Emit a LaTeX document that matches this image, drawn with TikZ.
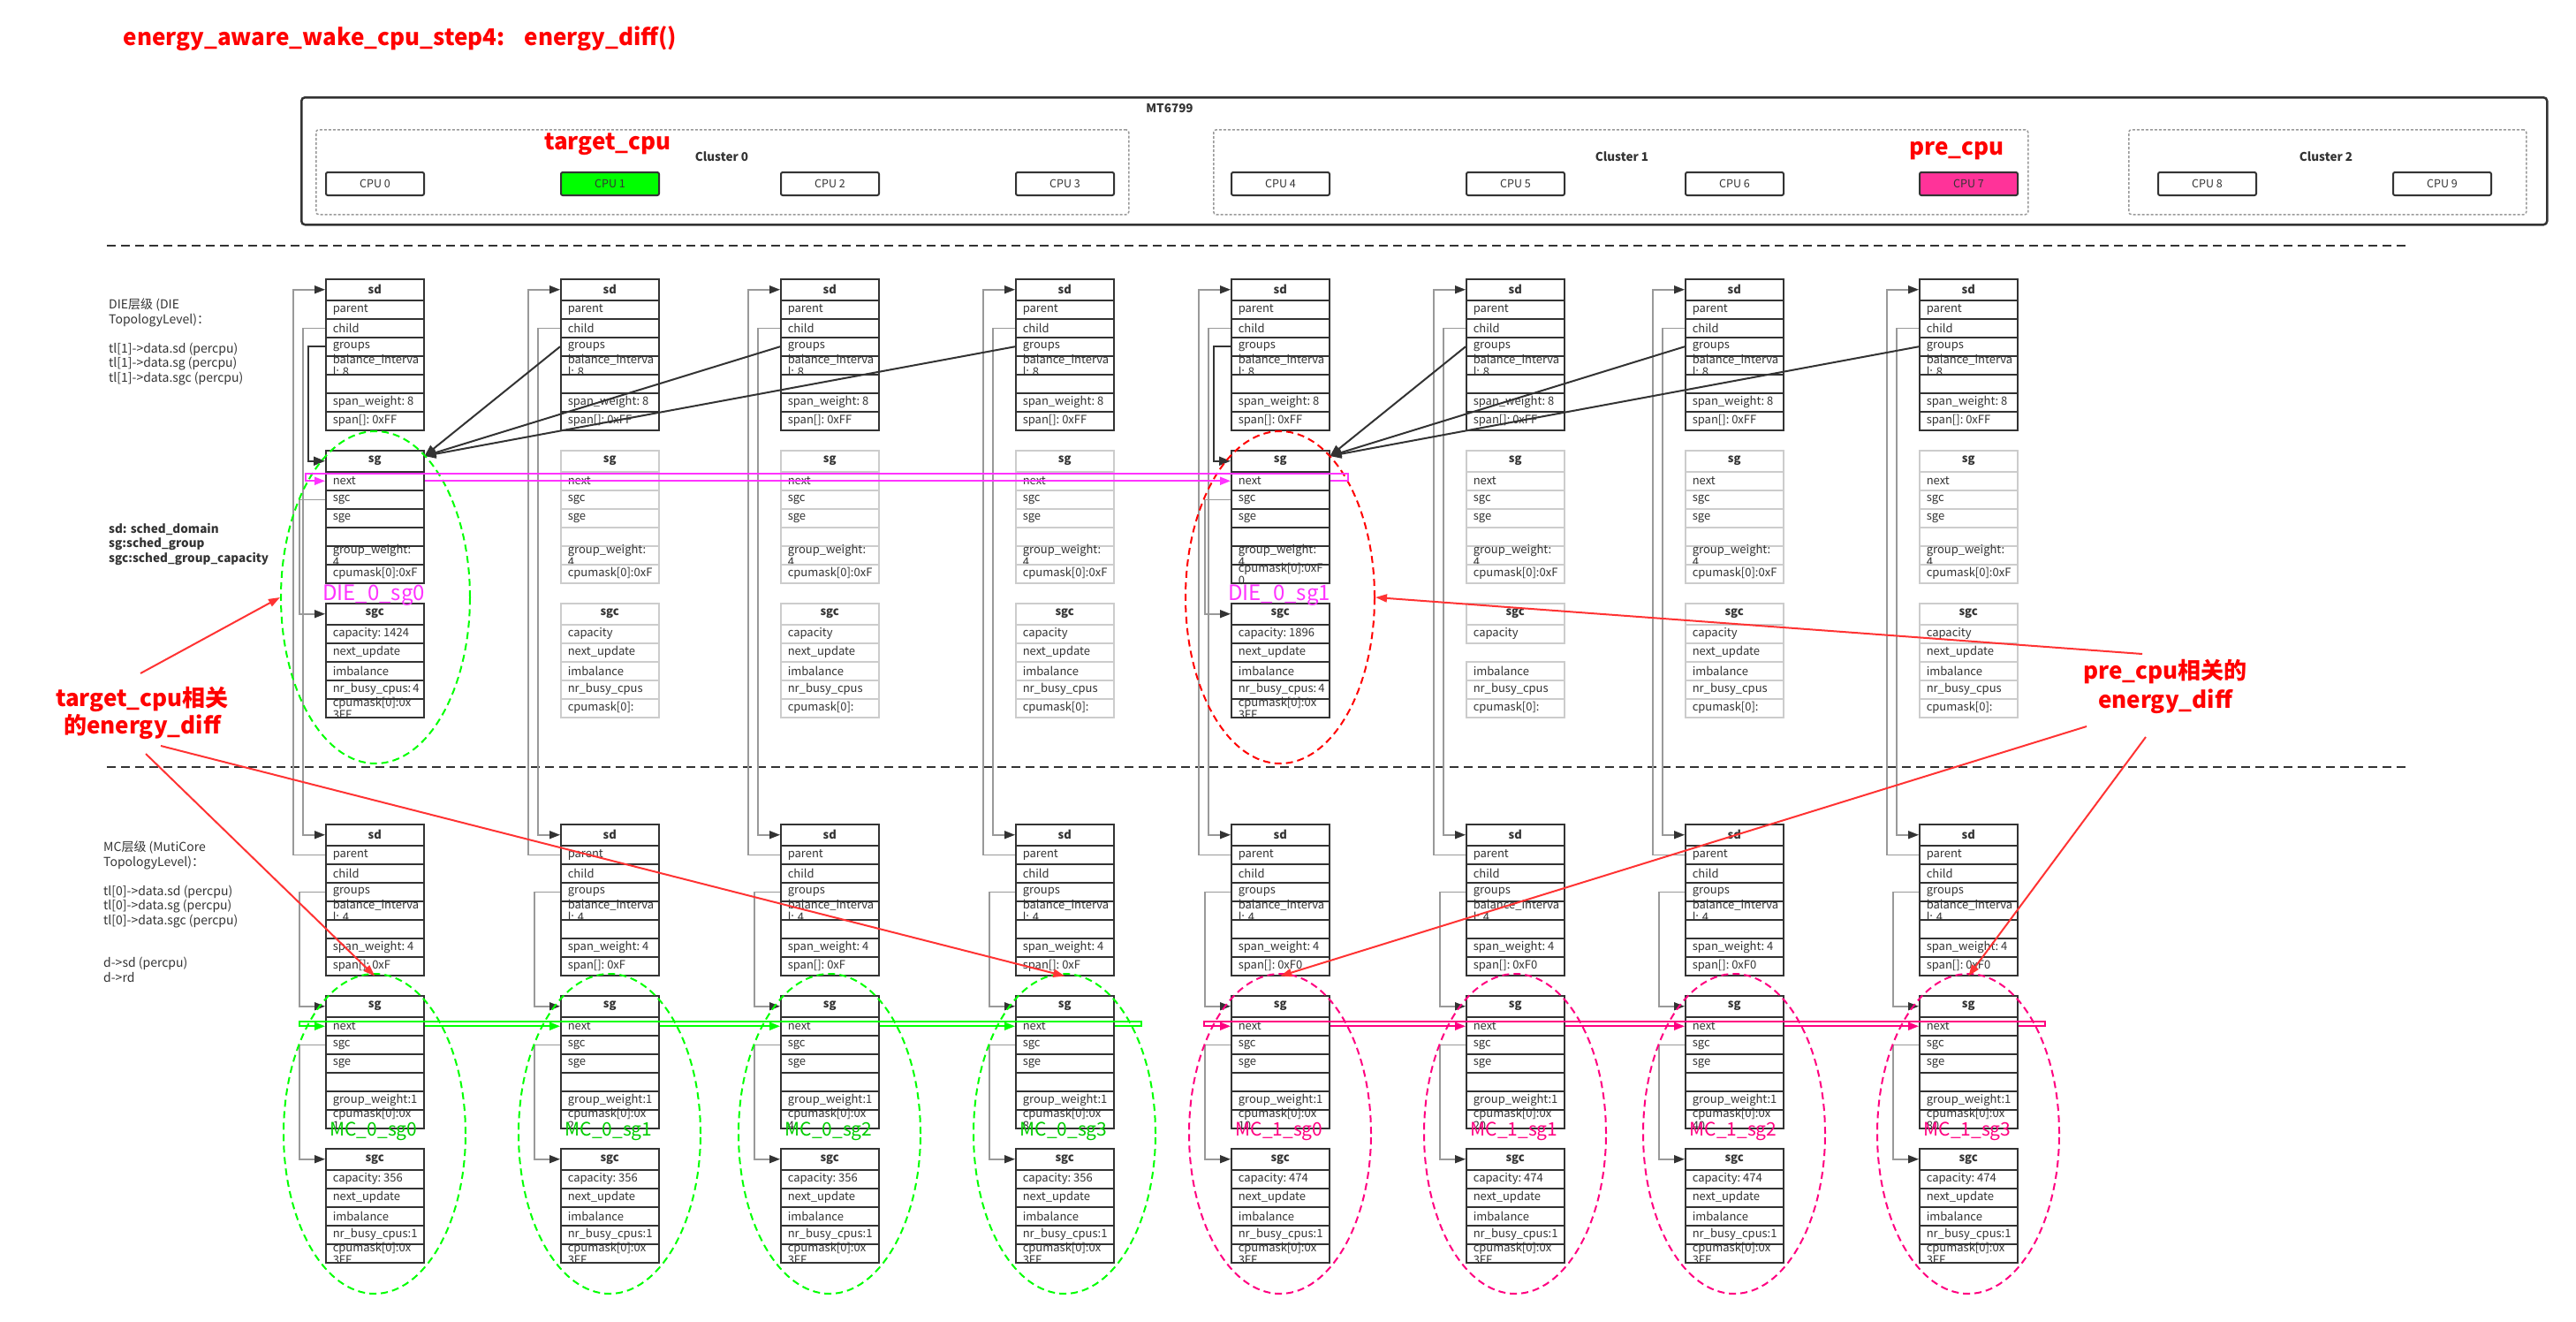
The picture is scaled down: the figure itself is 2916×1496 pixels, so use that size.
\documentclass[tikz,border=0pt]{standalone}
\usepackage{fontspec}
\setmainfont{Noto Sans CJK SC}
\usetikzlibrary{arrows.meta,shapes.geometric}

\definecolor{boxdark}{HTML}{333333}
\definecolor{boxgray}{HTML}{CCCCCC}
\definecolor{linegray}{HTML}{999999}
\definecolor{titlered}{HTML}{FF0000}
\definecolor{arrowred}{HTML}{FF3333}
\definecolor{magline}{HTML}{FF33FF}
\definecolor{grnline}{HTML}{00FF00}
\definecolor{grntext}{HTML}{00CC00}
\definecolor{pinkline}{HTML}{FF0080}
\definecolor{cpugreen}{HTML}{00FF00}
\definecolor{cpupink}{HTML}{FF3399}

\tikzset{
  head/.style={anchor=north west, minimum width=111pt, minimum height=24pt, inner sep=0pt,
    line width=1.5pt, fill=white, font=\bfseries\fontsize{13}{14}\selectfont},
  cell/.style={anchor=north west, minimum width=111pt, minimum height=21pt, inner sep=0pt,
    line width=1.5pt, fill=white, font=\fontsize{13}{13.5}\selectfont},
  dk/.style={draw=boxdark, text=boxdark},
  lt/.style={draw=boxgray, text=boxdark},
  cpu/.style={anchor=north west, draw=boxdark, line width=2pt, rounded corners=2pt,
    minimum width=111pt, minimum height=26pt, inner sep=0pt, text=boxdark,
    font=\fontsize{12.5}{14}\selectfont},
  clus/.style={anchor=north west, draw=linegray, line width=1.5pt, dash pattern=on 3pt off 2pt,
    rounded corners=3pt, inner sep=0pt},
  small/.style={text=boxdark, font=\bfseries\fontsize{13.5}{15}\selectfont},
  note/.style={anchor=north west, align=left, inner sep=0pt, text=boxdark,
    font=\fontsize{14}{16.5}\selectfont},
  redlbl/.style={align=center, text=titlered, font=\bfseries\fontsize{26}{31}\selectfont},
  gline/.style={draw=linegray, line width=1.5pt, -{Triangle[length=12pt,width=9pt,color=boxdark]}},
  dline/.style={draw=boxdark, line width=2pt, -{Triangle[length=13pt,width=10pt]}},
  magln/.style={draw=magline, line width=2pt, -{Triangle[length=12pt,width=9pt]}},
  grnln/.style={draw=grnline, line width=2pt, -{Triangle[length=12pt,width=9pt]}},
  pinkln/.style={draw=pinkline, line width=2pt, -{Triangle[length=12pt,width=9pt]}},
  redarr/.style={draw=arrowred, line width=2pt, -{Triangle[length=13pt,width=9pt]}},
  grp/.style={ellipse, line width=2pt, dash pattern=on 8pt off 5pt, inner sep=0pt},
  grplbl/.style={font=\fontsize{24}{24}\selectfont}
}

% one struct: header node #1, rows #1-1, #1-2, ...
\newcommand{\recbox}[6]{%
  \node[head, #4] (#1) at (#2,#3) {#5};
  \foreach \entry [count=\rr] in {#6}
    \node[cell, #4] (#1-\rr) at (#2,#3+3+21*\rr) {\parbox[c][21pt][c]{95pt}{\raggedright\entry}};
}

\begin{document}
\begin{tikzpicture}[x=1pt, y=-1pt]
  \useasboundingbox (0,0) rectangle (2916,1496);

  \node[anchor=west, text=titlered, font=\bfseries\fontsize{26}{30}\selectfont] (title) at (136,44)
    {energy\_aware\_wake\_cpu\_step4:\hspace{14pt} energy\_diff()};

  % MT6799 and its clusters
  \node[anchor=north west, draw=boxdark, line width=2.5pt, rounded corners=4pt, inner sep=0pt,
    minimum width=2542pt, minimum height=144pt] (soc) at (340,109) {};
  \node[small] (socname) at (1324,123) {MT6799};
  \node[clus, minimum width=920pt, minimum height=96pt] (cl0) at (357,146) {};
  \node[clus, minimum width=922pt, minimum height=96pt] (cl1) at (1373,146) {};
  \node[clus, minimum width=450pt, minimum height=96pt] (cl2) at (2409,146) {};
  \node[small] (cl0name) at (817,177) {Cluster 0};
  \node[small] (cl1name) at (1836,177) {Cluster 1};
  \node[small] (cl2name) at (2633,177) {Cluster 2};
  \foreach \x/\n/\f in {368/0/white,634/1/cpugreen,883/2/white,1149/3/white,1393/4/white,
      1659/5/white,1907/6/white,2172/7/cpupink,2442/8/white,2708/9/white}
    \node[cpu, fill=\f] (cpu\n) at (\x,194) {CPU \n};
  \node[redlbl] (tgtcpu) at (688,163) {target\_cpu};
  \node[redlbl] (precpu) at (2215,171) {pre\_cpu};

  \draw[boxdark, line width=2pt, dash pattern=on 10pt off 6pt] (121,278) -- (2728,278);
  \draw[boxdark, line width=2pt, dash pattern=on 10pt off 6pt] (121,868) -- (2726,868);

  % left notes
  \node[note] (dietxt) at (123,338) {DIE层级 (DIE\\TopologyLevel)：\\[16.5pt]tl[1]->data.sd (percpu)\\tl[1]->data.sg (percpu)\\tl[1]->data.sgc (percpu)};
  \node[note, font=\bfseries\fontsize{13.5}{16.5}\selectfont] (legend) at (123,592) {sd: sched\_domain\\sg:sched\_group\\sgc:sched\_group\_capacity};
  \node[note] (mctxt) at (117,952) {MC层级 (MutiCore\\TopologyLevel)：\\[16.5pt]tl[0]->data.sd (percpu)\\tl[0]->data.sg (percpu)\\tl[0]->data.sgc (percpu)\\[32pt]d->sd (percpu)\\d->rd};

  % DIE level
  \foreach \x [count=\k] in {368,634,883,1149,1393,1659,1907,2172}
    {\recbox{ds\k}{\x}{315}{dk}{sd}{parent,child,groups,{balance\_interva\\l: 8},{},{span\_weight:~8},{span[]:~0xFF}}}
  \recbox{dg1}{368}{509}{dk}{sg}{next,sgc,sge,{},{group\_weight:\\4},{cpumask[0]:0xF}}
  \recbox{dg5}{1393}{509}{dk}{sg}{next,sgc,sge,{},{group\_weight:\\4},{cpumask[0]:0xF\\0}}
  \foreach \x/\k in {634/2,883/3,1149/4,1659/6,1907/7,2172/8}
    {\recbox{dg\k}{\x}{509}{lt}{sg}{next,sgc,sge,{},{group\_weight:\\4},{cpumask[0]:0xF}}}
  \recbox{dc1}{368}{682}{dk}{sgc}{{capacity:~1424},next\_update,imbalance,{nr\_busy\_cpus:~4},{cpumask[0]:0x\\3FF}}
  \recbox{dc5}{1393}{682}{dk}{sgc}{{capacity:~1896},next\_update,imbalance,{nr\_busy\_cpus:~4},{cpumask[0]:0x\\3FF}}
  \foreach \x/\k in {634/2,883/3,1149/4,1907/7,2172/8}
    {\recbox{dc\k}{\x}{682}{lt}{sgc}{capacity,next\_update,imbalance,nr\_busy\_cpus,{cpumask[0]:}}}
  \recbox{dc6}{1659}{682}{lt}{sgc}{capacity}
  \node[cell, lt] (dc6-3) at (1659,748) {\parbox[c][21pt][c]{95pt}{imbalance}};
  \node[cell, lt] (dc6-4) at (1659,769) {\parbox[c][21pt][c]{95pt}{nr\_busy\_cpus}};
  \node[cell, lt] (dc6-5) at (1659,790) {\parbox[c][21pt][c]{95pt}{cpumask[0]:}};

  % MC level
  \foreach \x/\spn/\msk/\capa [count=\k] in {368/0xF/1/356,634/0xF/2/356,883/0xF/4/356,1149/0xF/8/356,
      1393/0xF0/10/474,1659/0xF0/20/474,1907/0xF0/40/474,2172/0xF0/80/474}{
    \recbox{ms\k}{\x}{932}{dk}{sd}{parent,child,groups,{balance\_interva\\l: 4},{},{span\_weight:~4},{span[]:~\spn}}
    \recbox{mg\k}{\x}{1126}{dk}{sg}{next,sgc,sge,{},{group\_weight:1},{cpumask[0]:0x\\\msk}}
    \recbox{mc\k}{\x}{1299}{dk}{sgc}{{capacity:~\capa},next\_update,imbalance,{nr\_busy\_cpus:1},{cpumask[0]:0x\\3FF}}
  }

  % pointers
  \foreach \k in {1,...,8}{
    \draw[gline] (ms\k-1.west) -- ++(-36pt,0) |- (ds\k.west);
    \draw[gline] (ds\k-2.west) -- ++(-25pt,0) |- (ms\k.west);
    \draw[gline] (ms\k-3.west) -- ++(-29pt,0) |- (mg\k.west);
    \draw[gline] (mg\k-2.west) -- ++(-29pt,0) |- (mc\k.west);
  }
  \foreach \k in {1,5}{
    \draw[dline] (ds\k-3.west) -- ++(-19pt,0) |- (dg\k.west);
    \draw[gline] (dg\k-2.west) -- ++(-29pt,0) |- (dc\k.west);
  }
  \foreach \k in {2,3,4} \draw[dline] (ds\k-3.west) -- ([yshift=-7pt]dg1.north east);
  \foreach \k in {6,7,8} \draw[dline] (ds\k-3.west) -- ([yshift=-7pt]dg5.north east);

  % groups
  \node[grp, draw=grnline, minimum width=214pt, minimum height=376pt] (e1) at (425,676) {};
  \node[grp, draw=titlered, minimum width=214pt, minimum height=376pt] (e5) at (1449,676) {};
  \foreach \x [count=\k] in {368,634,883,1149}
    \node[grp, draw=grnline, minimum width=206pt, minimum height=362pt] (f\k) at (\x+56,1283) {};
  \foreach \x [count=\k from 5] in {1393,1659,1907,2172}
    \node[grp, draw=pinkline, minimum width=206pt, minimum height=362pt] (f\k) at (\x+56,1283) {};

  % next lists
  \draw[magln] (dg1-1.east) -- (dg5-1.west);
  \draw[magln] (dg5-1.east) -- ++(20pt,0) |- ([xshift=-22pt,yshift=8pt]dg1-1.west) |- (dg1-1.west);
  \draw[grnln] (mg1-1.east) -- (mg2-1.west);
  \draw[grnln] (mg2-1.east) -- (mg3-1.west);
  \draw[grnln] (mg3-1.east) -- (mg4-1.west);
  \draw[grnln] (mg4-1.east) -- ++(30pt,0) |- ([xshift=-29pt,yshift=5pt]mg1-1.west) |- (mg1-1.west);
  \draw[pinkln] (mg5-1.east) -- (mg6-1.west);
  \draw[pinkln] (mg6-1.east) -- (mg7-1.west);
  \draw[pinkln] (mg7-1.east) -- (mg8-1.west);
  \draw[pinkln] (mg8-1.east) -- ++(30pt,0) |- ([xshift=-30pt,yshift=5pt]mg5-1.west) |- (mg5-1.west);

  \node[grplbl, text=magline] (l1) at (423,674) {DIE\_0\_sg0};
  \node[grplbl, text=magline] (l5) at (1448,674) {DIE\_0\_sg1};
  \foreach \x [count=\k, evaluate=\k as \j using int(\k-1)] in {368,634,883,1149}
    \node[grplbl, font=\fontsize{21}{21}\selectfont, text=grntext] (m\k) at (\x+55,1280) {MC\_0\_sg\j};
  \foreach \x [count=\k, evaluate=\k as \j using int(\k-1)] in {1393,1659,1907,2172}
    \node[grplbl, font=\fontsize{21}{21}\selectfont, text=pinkline] (n\k) at (\x+55,1280) {MC\_1\_sg\j};

  % energy_diff notes
  \node[redlbl] (tgt) at (161,807) {target\_cpu相关\\的energy\_diff};
  \node[redlbl, font=\bfseries\fontsize{26}{33}\selectfont] (pre) at (2451,777) {pre\_cpu相关的\\energy\_diff};
  \coordinate (ta) at (159,762);
  \coordinate (tb) at (165,853);
  \coordinate (tc) at (182,844);
  \coordinate (pa) at (2425,740);
  \coordinate (pb) at (2362,822);
  \coordinate (pc) at (2429,834);
  \draw[redarr] (ta) -- (e1.west);
  \draw[redarr] (tb) -- (ms1-7.south);
  \draw[redarr] (tc) -- (ms4-7.south);
  \draw[redarr] (pa) -- (e5.east);
  \draw[redarr] (pb) -- (ms5-7.south);
  \draw[redarr] (pc) -- (ms8-7.south);
\end{tikzpicture}
\end{document}
